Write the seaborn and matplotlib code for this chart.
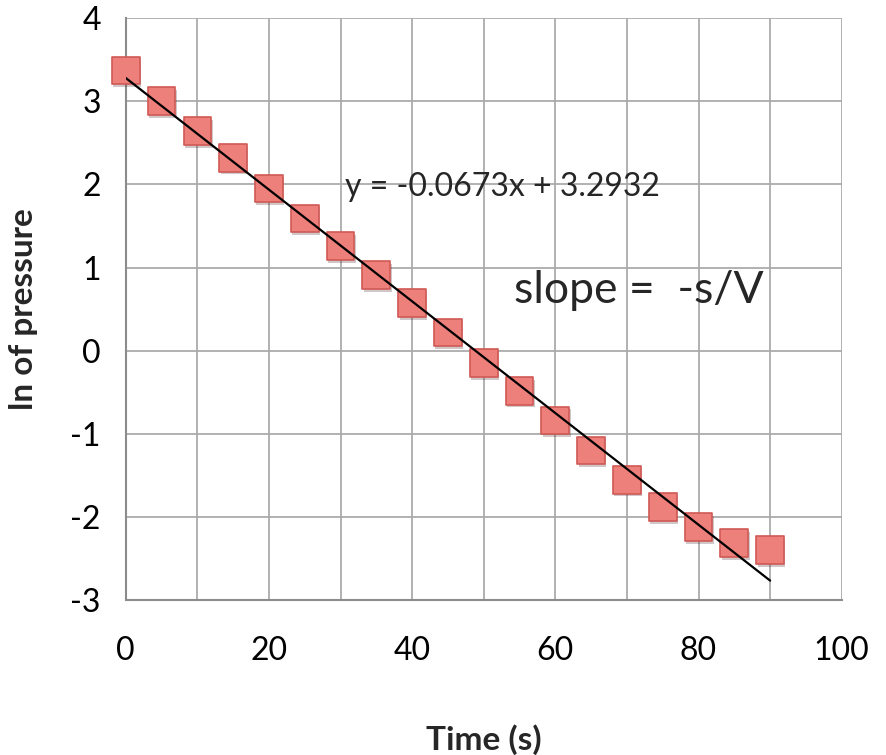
import numpy as np
import pandas as pd
import matplotlib
matplotlib.use("Agg")
import matplotlib.pyplot as plt
import matplotlib.patheffects as pe
import seaborn as sns

# data
time_s = [0, 5, 10, 15, 20, 25, 30, 35, 40, 45, 50, 55, 60, 65, 70, 75, 80, 85, 90]
ln_p = [3.37, 3.00, 2.64, 2.32, 1.95, 1.59, 1.26, 0.91, 0.57, 0.22, -0.15,
        -0.48, -0.84, -1.20, -1.55, -1.88, -2.12, -2.31, -2.40]
eq_text = "y = -0.0673x + 3.2932"
note_text = "slope =  -s/V"

df = pd.DataFrame({"t": time_s, "lnp": ln_p})

sns.set_theme(style="white")
plt.rcParams["font.family"] = ["Lato", "DejaVu Sans"]
plt.rcParams["axes.unicode_minus"] = False

fig = plt.figure(figsize=(8.86, 7.55), dpi=100)
ax = fig.add_axes([0.142, 0.205, 0.808, 0.771])

grid_c = "#ababab"
for xv in np.arange(10, 101, 10):
    ax.axvline(xv, color=grid_c, lw=1.3, zorder=0)
for yv in np.arange(-2, 5, 1):
    ax.axhline(yv, color=grid_c, lw=1.3, zorder=0)

sns.scatterplot(data=df, x="t", y="lnp", ax=ax, marker="s", s=400,
                color="#ee807b", edgecolor="#cf5955", linewidth=1.2, zorder=3,
                clip_on=False,
                path_effects=[pe.SimplePatchShadow(offset=(1, -2), alpha=0.25),
                              pe.Normal()])
sns.regplot(data=df, x="t", y="lnp", ax=ax, scatter=False, ci=None,
            line_kws={"color": "black", "lw": 1.6, "zorder": 4})

ax.set_xlim(0, 100)
ax.set_ylim(-3, 4)
ax.set_xticks(np.arange(0, 101, 20))
ax.set_yticks(np.arange(-3, 5, 1))

for s in ["top", "right"]:
    ax.spines[s].set_visible(False)
for s in ["left", "bottom"]:
    ax.spines[s].set_color("#8c8c8c")
    ax.spines[s].set_linewidth(1.5)
ax.tick_params(axis="both", direction="out", length=8, width=1.5, color="#8c8c8c",
               labelsize=23, labelcolor="black")
ax.tick_params(axis="y", pad=10)
ax.tick_params(axis="x", pad=18)

ax.set_xlabel("Time (s)", fontsize=24, fontweight="bold", labelpad=42)
ax.set_ylabel("ln of pressure", fontsize=24, fontweight="bold", labelpad=23)

ax.text(30.6, 1.97, eq_text, fontsize=23, va="center", ha="left", zorder=5)
ax.text(54.2, 0.72, note_text, fontsize=32, va="center", ha="left", zorder=5)

fig.savefig("out.png", dpi=100)
